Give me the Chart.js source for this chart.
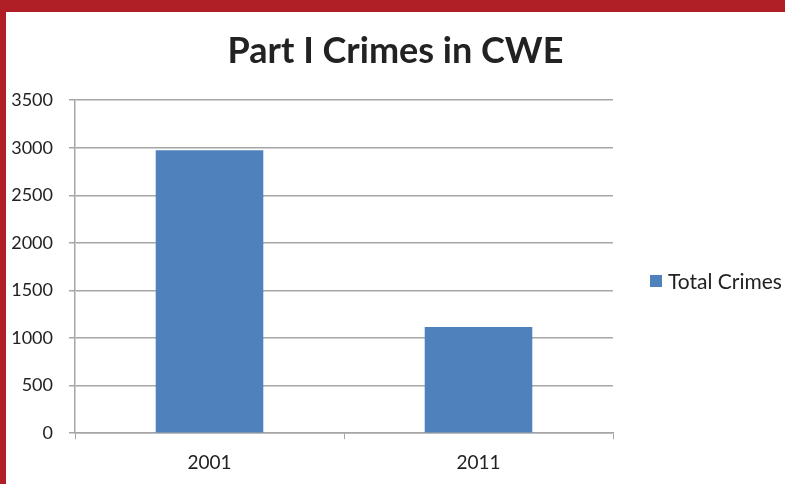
<!DOCTYPE html>
<html>
<head>
<meta charset="utf-8">
<script src="https://cdn.jsdelivr.net/npm/chart.js@4"></script>
<style>
    html, body { margin: 0; padding: 0; background: #b01f25; }
    body { width: 785px; height: 484px; position: relative; overflow: hidden; }
    #wrap { position: absolute; left: 6px; top: 12px; width: 779px; height: 472px; background: #fff; }
</style>
</head>
<body>
<div id="wrap"><canvas id="chart" width="779" height="472"></canvas></div>
<script>
// Données
const years = ['2001', '2011'];
const totalCrimes = [2975, 1115];
const yTicks = [0, 500, 1000, 1500, 2000, 2500, 3000, 3500];

const FONT = 'Lato, "Open Sans", sans-serif';
const GRID = '#a6a6a6';
const TEXT = '#222';

// Légende à droite : une boîte de layout à part, pour garder le titre centré sur tout le canvas
const sideLegend = {
    id: 'sideLegend',
    beforeInit(chart) {
        const box = {
            position: 'right',
            weight: 10,
            fullSize: false,
            options: {},
            isHorizontal() { return false; },
            update(maxWidth, maxHeight) {
                this.width = 172;
                this.height = maxHeight;
            },
            draw() {
                const c = chart.ctx;
                const ds = chart.data.datasets[0];
                const x = chart.chartArea.right + 37;
                const y = 269;
                c.save();
                c.fillStyle = ds.backgroundColor;
                c.fillRect(x, y - 6, 12, 12);
                c.fillStyle = TEXT;
                c.font = '21px ' + FONT;
                c.textBaseline = 'middle';
                c.fillText(ds.label, x + 18, y + 1);
                c.restore();
            }
        };
        Chart.layouts.addBox(chart, box);
    }
};

const ctx = document.getElementById('chart').getContext('2d');
const chart = new Chart(ctx, {
    type: 'bar',
    data: {
        labels: years,
        datasets: [{
            label: 'Total Crimes',
            data: totalCrimes,
            backgroundColor: '#4f81bd',
            borderWidth: 0,
            barPercentage: 0.4,
            categoryPercentage: 1.0
        }]
    },
    options: {
        responsive: false,
        animation: false,
        layout: { padding: { top: 0, left: 0, right: 0, bottom: -2 } },
        scales: {
            x: {
                offset: true,
                grid: { offset: true, drawOnChartArea: false, drawTicks: true, tickLength: 6, color: GRID, lineWidth: 1 },
                border: { color: GRID, width: 1.5 },
                ticks: { color: TEXT, font: { family: FONT, size: 19 }, padding: 12 }
            },
            y: {
                min: 0,
                max: 3500,
                afterBuildTicks: (axis) => { axis.ticks = yTicks.map(v => ({ value: v })); },
                afterFit: (axis) => { axis.width = 69; },
                grid: { color: GRID, lineWidth: 1.5, tickLength: 6 },
                border: { color: GRID, width: 1.5 },
                ticks: { color: TEXT, font: { family: FONT, size: 18 }, padding: 16, callback: (v) => String(v) }
            }
        },
        plugins: {
            title: {
                display: true,
                text: 'Part I Crimes in CWE',
                color: TEXT,
                font: { family: FONT, size: 36, weight: 'bold' },
                padding: { top: 18, bottom: 27 }
            },
            legend: { display: false },
            tooltip: { enabled: false }
        }
    },
    plugins: [sideLegend]
});
</script>
</body>
</html>
